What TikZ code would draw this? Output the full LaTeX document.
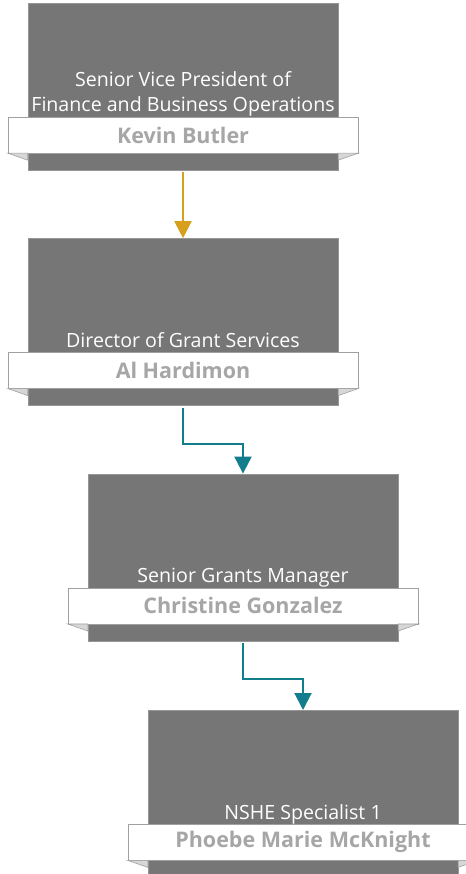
\documentclass[tikz,border=0pt]{standalone}
\usepackage{fontspec}
\setmainfont{Open Sans}
\usetikzlibrary{positioning,arrows.meta}
\definecolor{postgray}{RGB}{118,118,118}
\definecolor{postedge}{RGB}{150,150,150}
\definecolor{ribbonedge}{RGB}{160,160,160}
\definecolor{foldgray}{RGB}{215,215,215}
\definecolor{namegray}{RGB}{166,166,166}
\definecolor{linkgold}{RGB}{214,160,28}
\definecolor{linkteal}{RGB}{18,125,140}

\tikzset{
  post/.style={draw=postedge, fill=postgray, minimum width=310bp, minimum height=167bp, inner sep=0},
  ribbon/.style={draw=ribbonedge, fill=white, minimum width=350bp, minimum height=36bp, inner sep=0,
    text=namegray, font=\bfseries\fontsize{21.5bp}{24bp}\selectfont},
  title/.style={text=white, align=center, inner sep=0, font=\fontsize{19.6bp}{25bp}\selectfont},
  fold/.style={fill=foldgray, draw=ribbonedge, line width=0.6bp},
  link/.style={line width=2bp, -{Triangle[width=17bp,length=17bp]}}
}

\begin{document}
\begin{tikzpicture}[x=1bp, y=1bp]
\clip (0,0) rectangle (466,874);
\useasboundingbox (0,0) rectangle (466,874);

% posts
\node [post] (svp) at (183,787.5) {};
\node [post, below=68bp of svp] (dir) {};
\node [post, below=68bp of dir, xshift=60bp] (sgm) {};
\node [post, below=69bp of sgm, xshift=60bp] (nshe) {};

% name ribbons
\node [ribbon, below=114bp of svp.north] (svpname) {Kevin Butler};
\node [ribbon, below=114bp of dir.north] (dirname) {Al Hardimon};
\node [ribbon, below=114bp of sgm.north] (sgmname) {Christine Gonzalez};
\node [ribbon, below=114bp of nshe.north] (nshename) {Phoebe Marie McKnight};

\foreach \n/\p in {svpname/svp, dirname/dir, sgmname/sgm, nshename/nshe} {
  \filldraw [fold] (\n.south west) -- (\n.south west -| \p.west) -- ++(0,-7) -- cycle;
  \filldraw [fold] (\n.south east) -- (\n.south east -| \p.east) -- ++(0,-7) -- cycle;
}

% titles
\node [title, above=5bp of svpname.north, anchor=base] (svptitle) {Senior Vice President of\\Finance and Business Operations};
\node [title, above=5bp of dirname.north, anchor=base] (dirtitle) {Director of Grant Services};
\node [title, above=5bp of sgmname.north, anchor=base] (sgmtitle) {Senior Grants Manager};
\node [title, above=5bp of nshename.north, anchor=base] (nshetitle) {NSHE Specialist 1};

% links
\draw [link, linkgold, shorten <=2bp] (svp.south) -- (dir.north);
\draw [link, linkteal, shorten <=2bp] (dir.south) -- ++(0,-38) -| (sgm.north);
\draw [link, linkteal, shorten <=2bp] (sgm.south) -- ++(0,-38) -| (nshe.north);
\end{tikzpicture}
\end{document}
